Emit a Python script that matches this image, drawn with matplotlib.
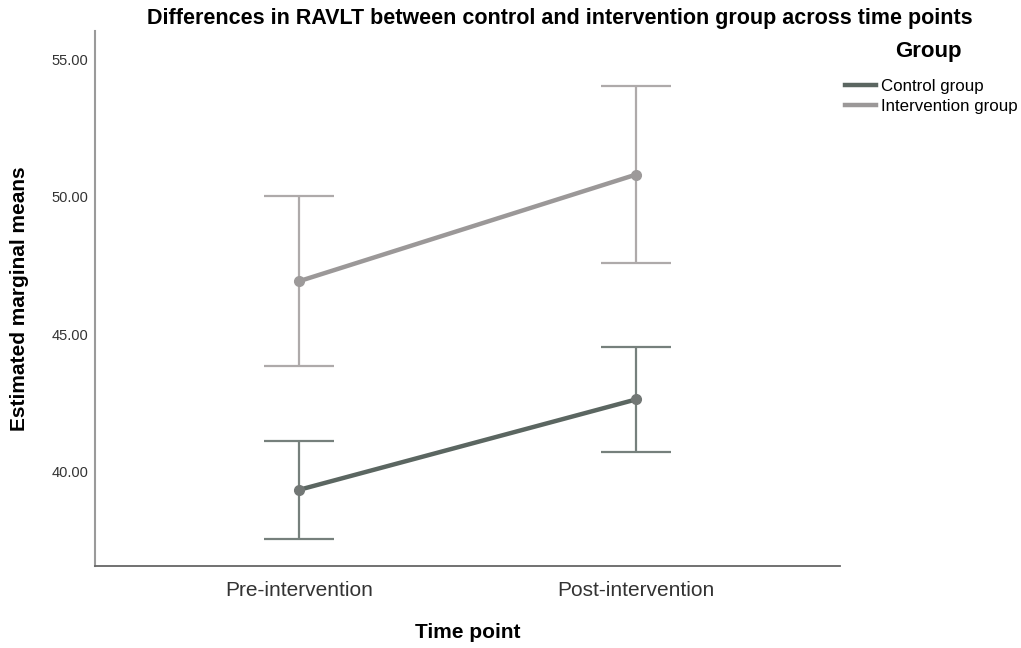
import matplotlib
matplotlib.use("Agg")
import matplotlib.pyplot as plt
from matplotlib.lines import Line2D

plt.rcParams['font.family'] = ['Liberation Sans', 'DejaVu Sans']

time_points = ["Pre-intervention", "Post-intervention"]
groups = ["Control group", "Intervention group"]
control_means = [39.34, 42.63]
control_err = [1.78, 1.90]
intervention_means = [46.93, 50.81]
intervention_err = [3.10, 3.23]
yticks = [40, 45, 50, 55]

line_colors = ["#5b6661", "#9b9898"]
err_colors = ["#76807c", "#aeaaaa"]
marker_colors = ["#727775", "#9d9a9a"]

fig = plt.figure(figsize=(10.21, 6.48), dpi=100)
ax = fig.add_axes([0.093, 0.1265, 0.7297, 0.8255])

x = list(range(len(time_points)))
for means, errs, lc, ec, mc in zip([control_means, intervention_means],
                                   [control_err, intervention_err],
                                   line_colors, err_colors, marker_colors):
    ax.errorbar(x, means, yerr=errs, fmt='none', ecolor=ec, elinewidth=1.6,
                capsize=25, capthick=1.6, zorder=2)
    ax.plot(x, means, color=lc, linewidth=3.2, zorder=3)
    ax.plot(x, means, 'o', color=mc, markersize=7, zorder=4)

ax.set_xlim(-0.605, 1.605)
ax.set_ylim(36.57, 56.03)
ax.set_xticks(x)
ax.set_xticklabels(time_points, fontsize=15, color="#333333")
ax.set_yticks(yticks)
ax.set_yticklabels([f"{v:.2f}" for v in yticks], fontsize=10.5, color="#333333")
ax.tick_params(axis='both', length=0)
ax.tick_params(axis='x', pad=11)
ax.tick_params(axis='y', pad=5)

for s in ['top', 'right']:
    ax.spines[s].set_visible(False)
ax.spines['left'].set_color("#9a9a9a")
ax.spines['left'].set_linewidth(1.5)
ax.spines['bottom'].set_color("#666666")
ax.spines['bottom'].set_linewidth(1.3)

ax.set_xlabel("Time point", fontsize=15, fontweight='bold', labelpad=16)
ax.set_ylabel("Estimated marginal means", fontsize=15, fontweight='bold')
ax.yaxis.set_label_coords(-0.0886, 0.5)
fig.text(0.548, 0.972, "Differences in RAVLT between control and intervention group across time points",
         ha='center', va='center', fontsize=15.5, fontweight='bold')

fig.text(928 / 1021, 1 - 52 / 648, "Group", ha='center', va='center',
         fontsize=16, fontweight='bold')
handles = [Line2D([0], [0], color=c, linewidth=3.2) for c in line_colors]
leg = fig.legend(handles, groups, loc='upper left', bbox_to_anchor=(845 / 1021, 1 - 79 / 648),
                 frameon=False, fontsize=12.2, handlelength=1.85, handletextpad=0.3,
                 labelspacing=0.32, borderpad=0, borderaxespad=0)

fig.savefig("out.png", dpi=100)
